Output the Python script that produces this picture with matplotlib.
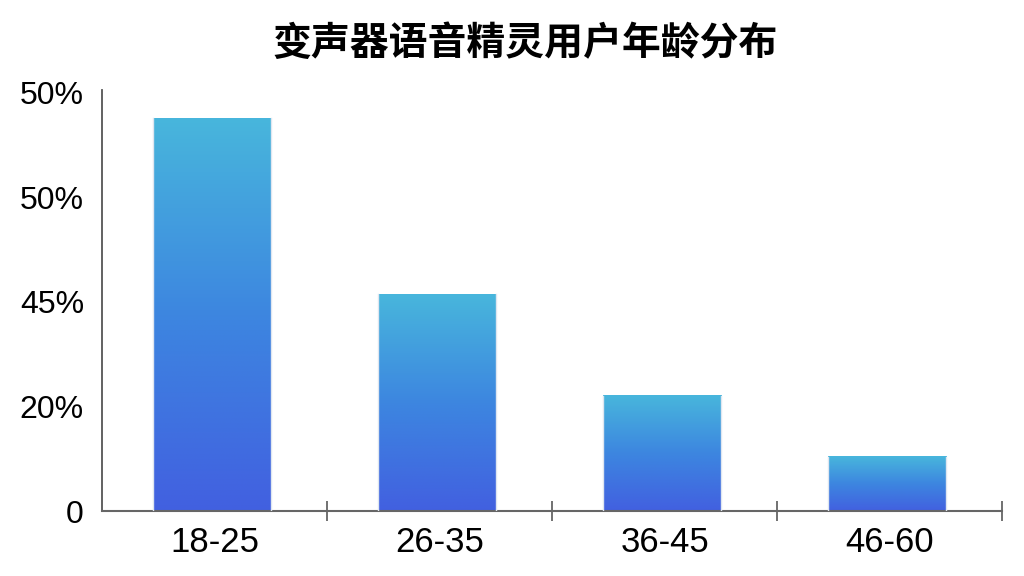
import numpy as np
import matplotlib
matplotlib.use('Agg')
import matplotlib.pyplot as plt
from matplotlib.colors import LinearSegmentedColormap

# 数据
categories = ['18-25', '26-35', '36-45', '46-60']
values = [46.9, 25.9, 13.8, 6.5]
ytick_values = [0, 12.5, 25, 37.5, 50]
ytick_labels = ['0', '20%', '45%', '50%', '50%']
title = '变声器语音精灵用户年龄分布'

plt.rcParams['font.family'] = ['Liberation Sans', 'Noto Sans CJK SC', 'DejaVu Sans']

fig = plt.figure(figsize=(10.24, 5.76), dpi=100)
ax = fig.add_axes([0.0996, 0.1128, 0.879, 0.731])

# 渐变色：底部蓝紫 -> 顶部浅蓝
cmap = LinearSegmentedColormap.from_list('bar_grad', ['#4260e0', '#3d86e0', '#48b6dc'])
grad = np.linspace(0, 1, 256).reshape(-1, 1)

x = np.arange(len(categories))
width = 0.525
bars = ax.bar(x - 0.012, values, width=width, color='none', edgecolor='none')
for b in bars:
    x0 = b.get_x()
    h = b.get_height()
    ax.imshow(grad, extent=[x0, x0 + width, 0, h], origin='lower',
              cmap=cmap, aspect='auto', zorder=2, interpolation='bicubic')
    ax.plot([x0, x0], [0, h], color='#dfe6f0', lw=1.0, zorder=3)
    ax.plot([x0 + width, x0 + width], [0, h], color='#dfe6f0', lw=1.0, zorder=3)

ax.set_xlim(-0.5, len(categories) - 0.5)
ax.set_ylim(0, 50.3)

# 坐标轴样式
for s in ['top', 'right']:
    ax.spines[s].set_visible(False)
ax.spines['left'].set_color('#555555')
ax.spines['bottom'].set_color('#666666')
ax.spines['left'].set_linewidth(1.3)
ax.spines['bottom'].set_linewidth(1.5)

ax.set_yticks(ytick_values)
ax.set_yticklabels(ytick_labels)
ax.tick_params(axis='y', length=0, pad=13, labelsize=23)

ax.set_xticks(x)
ax.set_xticklabels(categories)
ax.tick_params(axis='x', length=0, pad=11, labelsize=25)
ax.set_xticks(np.arange(0.5, len(categories), 1.0), minor=True)
ax.tick_params(axis='x', which='minor', direction='inout', length=14,
               width=1.3, color='#666666')

fig.text(0.513, 0.925, title, ha='center', va='center', fontsize=28,
         fontweight='bold', family=['Noto Sans CJK SC', 'DejaVu Sans'])

fig.savefig('out.png', dpi=100, facecolor='white')
